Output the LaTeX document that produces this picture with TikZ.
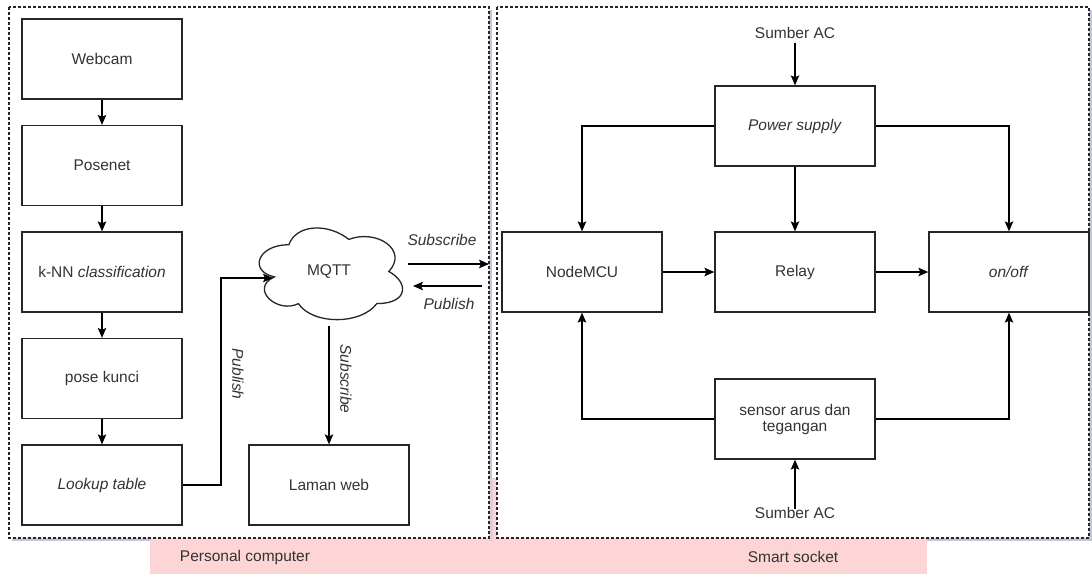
\documentclass[tikz,border=0pt]{standalone}
\usepackage{fontspec}
\setmainfont{Liberation Sans}
\usetikzlibrary{arrows.meta}
\definecolor{txt}{HTML}{333333}
\definecolor{pinkbar}{HTML}{FDD5D6}
\definecolor{shadowc}{HTML}{C4C6D8}
\tikzset{
  blk/.style={draw=black!85, line width=1.3pt, fill=white, minimum width=160pt, minimum height=80pt, inner sep=0pt, text=txt, font=\fontsize{15.5}{17}\selectfont, align=center},
  lbl/.style={text=txt, font=\fontsize{15.5}{17}\selectfont, inner sep=1pt},
  con/.style={draw=black, line width=1.3pt},
  arr/.style={con, -{Stealth[length=10pt,width=8.5pt,inset=2pt]}},
  cont/.style={draw=black!85, line width=1.2pt, dash pattern=on 3pt off 2pt, fill=white},
  cloudline/.style={draw=black!85, line width=1.3pt, fill=white},
}
\begin{document}
\begin{tikzpicture}[x=1pt,y=-1pt]
\useasboundingbox (0,0) rectangle (1092,574);
% pink bar
\fill[pinkbar] (150,478) rectangle (927,574);
% shadows
\fill[shadowc] (12,10) rectangle (492,541);
\fill[shadowc] (500,10) rectangle (1092,541);
\fill[pinkbar] (150,478) rectangle (927,541);
\fill[shadowc!50!pinkbar] (489,478) rectangle (493,541);
% containers
\draw[cont] (9,7) rectangle (489,538);
\draw[cont] (497,7) rectangle (1089,538);
\node[lbl] (pc) at (245,557) {Personal computer};
\node[lbl] (ss) at (793,557) {Smart socket};
% left chain
\node[blk] (web) at (102,59) {Webcam};
\node[blk] (pose) at (102,165.5) {Posenet};
\node[blk] (knn) at (102,272) {k-NN \textit{classification}};
\node[blk] (kunci) at (102,378.5) {pose kunci};
\node[blk] (look) at (102,485) {\textit{Lookup table}};
\node[blk] (laman) at (329,485) {Laman web};
\draw[arr] (web) -- (pose);
\draw[arr] (pose) -- (knn);
\draw[arr] (knn) -- (kunci);
\draw[arr] (kunci) -- (look);
% cloud
\path[cloudline] (288.8,244.75) .. controls (256.8,244.75) and (248.8,271.5) .. (274.4,276.85)
  .. controls (248.8,288.6) and (277.6,314.3) .. (298.4,303.6)
  .. controls (312.8,325) and (360.8,325) .. (376.8,303.6)
  .. controls (408.8,303.6) and (408.8,282.2) .. (388.8,271.5)
  .. controls (408.8,250.1) and (376.8,228.7) .. (348.8,239.4)
  .. controls (328.8,223.35) and (296.8,223.35) .. (288.8,244.75) -- cycle;
\node[lbl] (mqtt) at (329,272) {MQTT};
\coordinate (mqin) at (273,278);
\coordinate (mqout) at (329,326);
\draw[arr] (look.east) -- (221,485) -- (221,278) -- (mqin);
\draw[arr] (mqout) -- (laman.north);
\node[lbl, rotate=-90] (pubv) at (238,374) {\textit{Publish}};
\node[lbl, rotate=-90] (subv) at (346,379) {\textit{Subscribe}};
% horizontal arrows
\coordinate (s1) at (408,264);
\coordinate (s2) at (489,264);
\coordinate (p1) at (482,286);
\coordinate (p2) at (413,286);
\draw[arr] (s1) -- (s2);
\draw[arr] (p1) -- (p2);
\node[lbl] (subh) at (442,240) {\textit{Subscribe}};
\node[lbl] (pubh) at (449,304) {\textit{Publish}};
% right side
\node[lbl] (acTop) at (795,33) {Sumber AC};
\node[blk] (psu) at (795,126) {\textit{Power supply}};
\node[blk] (mcu) at (582,272) {NodeMCU};
\node[blk] (relay) at (795,272) {Relay};
\node[blk] (onoff) at (1009,272) {\textit{on/off}};
\node[blk] (sensor) at (795,419) {sensor arus dan\\[-1pt]tegangan};
\node[lbl] (acBot) at (795,513) {Sumber AC};
\draw[arr] ([yshift=-3pt]acTop.south) -- (psu.north);
\draw[arr] (psu.south) -- (relay.north);
\draw[arr] (psu.west) -| (mcu.north);
\draw[arr] (psu.east) -| (onoff.north);
\draw[arr] (mcu) -- (relay);
\draw[arr] (relay) -- (onoff);
\draw[arr] (sensor.west) -| (mcu.south);
\draw[arr] (sensor.east) -| (onoff.south);
\draw[arr] ([yshift=-3pt]acBot.north) -- (sensor.south);
\end{tikzpicture}
\end{document}
